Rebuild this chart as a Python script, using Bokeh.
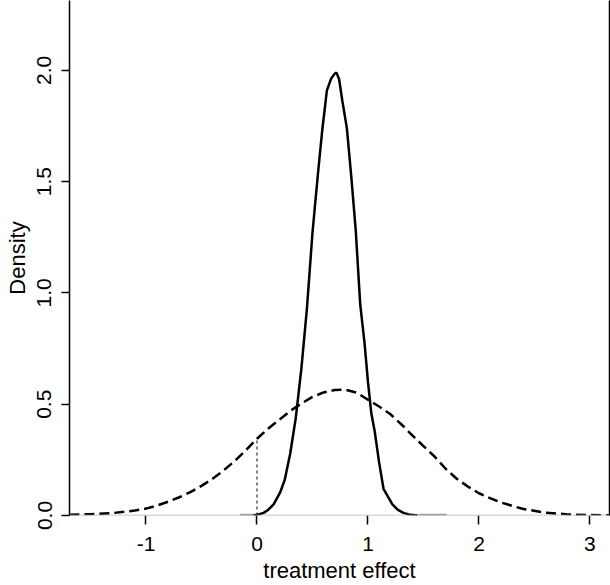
from bokeh.plotting import figure
from bokeh.models import Range1d, FixedTicker, LinearAxis, Span
from bokeh.embed import file_html
from bokeh.resources import INLINE

# ---- data ----
dash_x = [-1.69, -1.5, -1.3, -1.1, -1.0, -0.9, -0.8, -0.7, -0.6, -0.5, -0.4, -0.3, -0.2, -0.1,
          0.0, 0.1, 0.2, 0.3, 0.4, 0.5, 0.6, 0.7, 0.8, 0.9, 1.0, 1.1, 1.2, 1.3, 1.4, 1.5,
          1.6, 1.7, 1.8, 1.9, 2.0, 2.1, 2.2, 2.4, 2.6, 2.8, 3.0, 3.18]
dash_y = [0.003, 0.006, 0.011, 0.022, 0.031, 0.045, 0.062, 0.082, 0.105, 0.133, 0.165, 0.203,
          0.245, 0.293, 0.345, 0.39, 0.43, 0.47, 0.503, 0.533, 0.553, 0.564, 0.565, 0.552,
          0.52, 0.49, 0.456, 0.41, 0.36, 0.312, 0.265, 0.21, 0.165, 0.13, 0.10, 0.078, 0.058,
          0.029, 0.013, 0.005, 0.002, 0.001]

sol_x = [-0.04, 0.0, 0.06, 0.10, 0.15, 0.21, 0.25, 0.30, 0.35, 0.40, 0.45, 0.50, 0.55, 0.59,
         0.63, 0.67, 0.70, 0.716, 0.74, 0.77, 0.81, 0.85, 0.89, 0.93, 0.97, 1.00, 1.03, 1.06,
         1.10, 1.14, 1.18, 1.22, 1.27, 1.32, 1.38, 1.45]
sol_y = [0.0, 0.003, 0.012, 0.025, 0.05, 0.105, 0.16, 0.28, 0.44, 0.66, 0.93, 1.27, 1.54, 1.74,
         1.91, 1.965, 1.985, 1.99, 1.96, 1.86, 1.74, 1.52, 1.28, 0.95, 0.77, 0.60, 0.46, 0.38,
         0.24, 0.12, 0.085, 0.05, 0.025, 0.012, 0.003, 0.0]

gray_lo = [-0.155, 1.46]
gray_hi = [-0.043, 1.71]

ref_x = 0.0
ref_top = 0.345

x_ticks = [-1, 0, 1, 2, 3]
x_tick_labels = ["-1", "0", "1", "2", "3"]
y_ticks = [0.0, 0.5, 1.0, 1.5, 2.0]
y_tick_labels = ["0.0", "0.5", "1.0", "1.5", "2.0"]

FONT = "Liberation Sans"

p = figure(width=610, height=585, x_range=Range1d(-1.689, 3.176), y_range=Range1d(0, 2.314),
           output_backend="svg", toolbar_location=None,
           min_border_left=69, min_border_right=1, min_border_top=0, min_border_bottom=69)
p.outline_line_color = None
p.xgrid.visible = False
p.ygrid.visible = False
p.background_fill_color = "white"
p.border_fill_color = "white"

# x axis
xa = p.xaxis[0]
xa.ticker = FixedTicker(ticks=x_ticks)
xa.major_label_overrides = {t: l for t, l in zip(x_ticks, x_tick_labels)}
xa.axis_line_color = None
xa.major_tick_in = 0
xa.major_tick_out = 9
xa.minor_tick_line_color = None
xa.major_tick_line_width = 1.5
xa.major_tick_line_color = "black"
xa.major_label_standoff = 12
xa.major_label_text_font = FONT
xa.major_label_text_font_size = "21px"
xa.major_label_text_color = "black"
xa.axis_label = "treatment effect"
xa.axis_label_text_font = FONT
xa.axis_label_text_font_size = "22px"
xa.axis_label_text_font_style = "normal"
xa.axis_label_text_color = "black"
xa.axis_label_standoff = 4

# y axis
ya = p.yaxis[0]
ya.ticker = FixedTicker(ticks=y_ticks)
ya.major_label_overrides = {t: l for t, l in zip(y_ticks, y_tick_labels)}
ya.axis_line_color = "black"
ya.axis_line_width = 1.5
ya.major_tick_in = 0
ya.major_tick_out = 8
ya.minor_tick_line_color = None
ya.major_tick_line_width = 1.5
ya.major_label_standoff = 10
ya.major_label_orientation = "vertical"
ya.major_label_text_font = FONT
ya.major_label_text_font_size = "21px"
ya.major_label_text_color = "black"
ya.axis_label = "Density"
ya.axis_label_text_font = FONT
ya.axis_label_text_font_size = "22px"
ya.axis_label_text_font_style = "normal"
ya.axis_label_text_color = "black"
ya.axis_label_standoff = 5

# right frame border
ra = LinearAxis(ticker=FixedTicker(ticks=[]), major_label_text_font_size="0px",
                axis_line_color="black", axis_line_width=1.5,
                major_tick_out=0, major_tick_in=0, minor_tick_out=0, minor_tick_in=0,
                major_label_standoff=0)
p.add_layout(ra, "right")

# baseline
p.add_layout(Span(location=0, dimension="width", line_color="#b8b8b8", line_width=1.5))

# gray thick intervals on baseline
p.segment(x0=gray_lo, y0=[0] * len(gray_lo), x1=gray_hi, y1=[0] * len(gray_hi),
          line_color="#9a9a9a", line_width=3.5)

# dotted reference line at x = 0
p.segment(x0=[ref_x], y0=[0], x1=[ref_x], y1=[ref_top],
          line_color="#808080", line_width=2, line_dash="3 3")

# dashed wide density
p.line(dash_x, dash_y, line_color="black", line_width=2.5, line_dash="10 5")

# solid narrow density
p.line(sol_x, sol_y, line_color="black", line_width=2.5)

open("out.html", "w").write(file_html(p, INLINE))
